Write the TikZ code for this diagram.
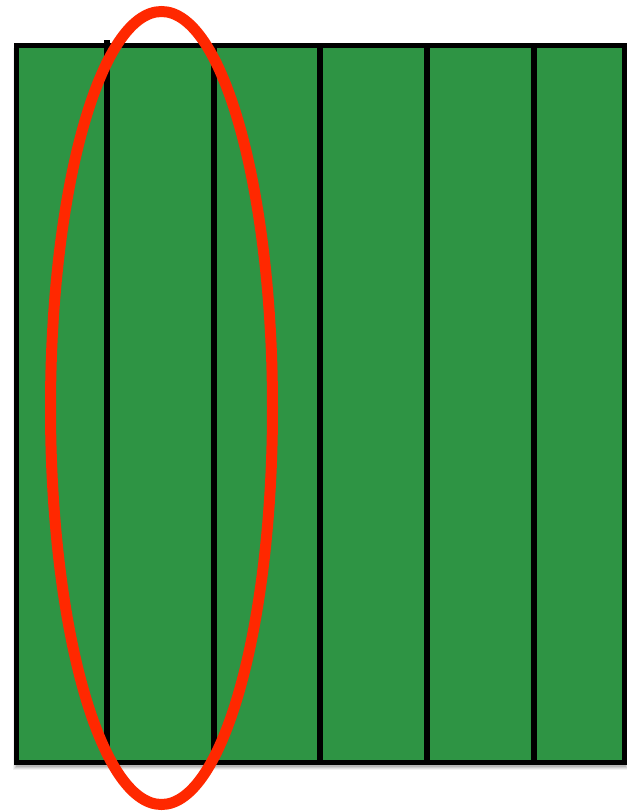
\documentclass[tikz,border=0pt]{standalone}
\usetikzlibrary{shadows}
\definecolor{feltgreen}{RGB}{46,148,68}
\definecolor{ringred}{RGB}{255,40,0}
\tikzset{
  panel/.style={fill=feltgreen, draw=black, line width=5.5pt},
  divider/.style={draw=black, line width=5.5pt},
  ring/.style={draw=ringred, line width=11pt}
}
\begin{document}
\begin{tikzpicture}[x=1pt,y=-1pt]
\useasboundingbox (0,0) rectangle (627,812);
% soft shadow
\foreach \o/\op in {4/0.05,3/0.07,2/0.09,1/0.11}{
  \fill[black,opacity=\op] (16.5-\o,47.5) rectangle (624.5+\o,762.5+\o+3);
}
\draw[panel] (16.5,45.5) rectangle (624.5,762.5);
\draw[divider] (107,40) -- (107,762.5);
\foreach \x in {214,320,427,534}{
  \draw[divider] (\x,45.5) -- (\x,762.5);
}
\draw[ring] (161.5,408) ellipse [x radius=111, y radius=396.5];
\end{tikzpicture}
\end{document}
